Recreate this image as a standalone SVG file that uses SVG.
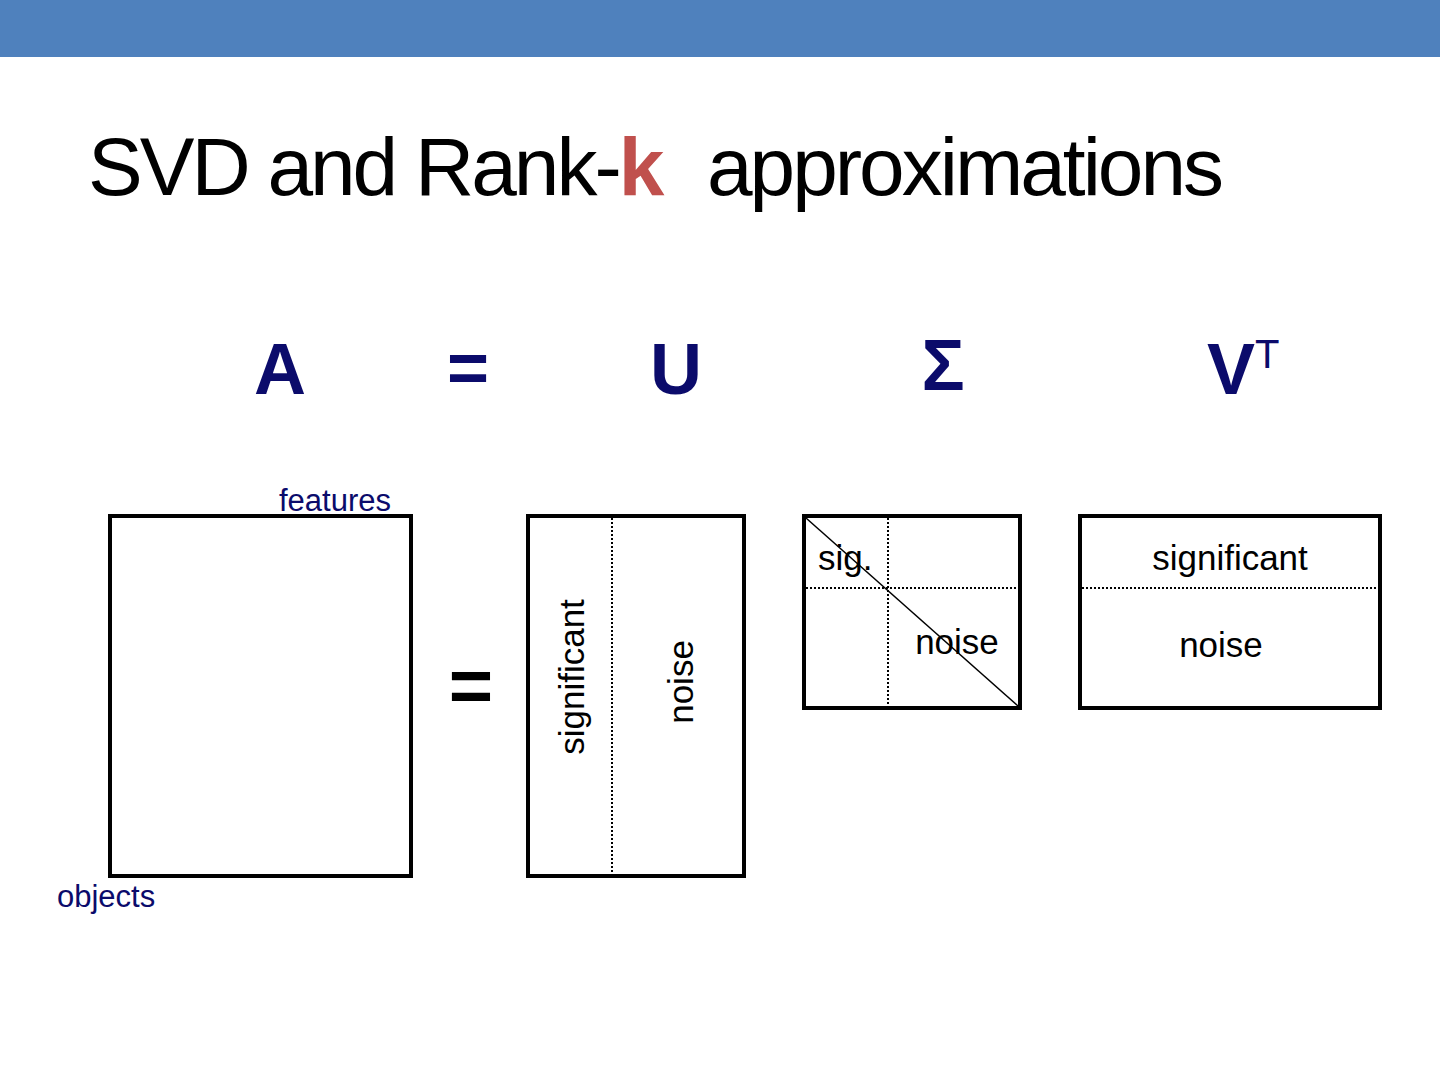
<svg xmlns="http://www.w3.org/2000/svg" width="1440" height="1080" viewBox="0 0 1440 1080">
<style>
.box{fill:none;stroke:#000;stroke-width:4}
.dot{stroke:#000;stroke-width:2;stroke-dasharray:2 2;fill:none}
.lbl{font-family:"Liberation Sans",Arial,sans-serif;font-size:35px;fill:#000}
.ax{font-family:"Liberation Sans",Arial,sans-serif;font-size:31px;fill:#0b0b6b}
.big{font-family:"Liberation Sans",Arial,sans-serif;font-size:72px;font-weight:bold;fill:#0b0b6b}
</style>
<rect width="1440" height="1080" fill="#fff"/>
<rect x="0" y="0" width="1440" height="57" fill="#4F81BD"/>
<text x="88" y="195" font-family="Liberation Sans,Arial,sans-serif" font-size="82" letter-spacing="-3" fill="#000">SVD and Rank-<tspan fill="#C0504D" font-weight="bold">k</tspan><tspan x="707">approximations</tspan></text>

<g id="eqrow">
<text class="big" x="280" y="394" text-anchor="middle">A</text>
<text class="big" x="468" y="392" text-anchor="middle">=</text>
<text class="big" x="676" y="394" text-anchor="middle">U</text>
<text class="big" x="943" y="390" text-anchor="middle">Σ</text>
<text class="big" x="1207" y="394">V<tspan font-weight="normal" font-size="40" dy="-26">T</tspan></text>
</g>

<g id="matA">
<rect class="box" x="110" y="516" width="301" height="360"/>
<text class="ax" x="391" y="511" text-anchor="end">features</text>
<text class="ax" x="57" y="907">objects</text>
</g>

<g id="eq2">
<text x="471" y="712" text-anchor="middle" font-family="Liberation Sans,Arial,sans-serif" font-size="76" font-weight="bold" fill="#000">=</text>
</g>

<g id="matU">
<rect class="box" x="528" y="516" width="216" height="360"/>
<line class="dot" x1="612" y1="518" x2="612" y2="874"/>
<text class="lbl" transform="translate(584,677) rotate(-90)" text-anchor="middle">significant</text>
<text class="lbl" transform="translate(693,682) rotate(-90)" text-anchor="middle">noise</text>
</g>

<g id="matS">
<rect class="box" x="804" y="516" width="216" height="192"/>
<line class="dot" x1="888" y1="518" x2="888" y2="706"/>
<line class="dot" x1="806" y1="588" x2="1018" y2="588"/>
<line x1="806" y1="518" x2="1018" y2="706" stroke="#000" stroke-width="1.5"/>
<text class="lbl" x="818" y="570">sig.</text>
<text class="lbl" x="957" y="654" text-anchor="middle">noise</text>
</g>

<g id="matV">
<rect class="box" x="1080" y="516" width="300" height="192"/>
<line class="dot" x1="1082" y1="588" x2="1378" y2="588"/>
<text class="lbl" x="1230" y="570" text-anchor="middle">significant</text>
<text class="lbl" x="1221" y="657" text-anchor="middle">noise</text>
</g>
<g id="connectors"/>
</svg>
